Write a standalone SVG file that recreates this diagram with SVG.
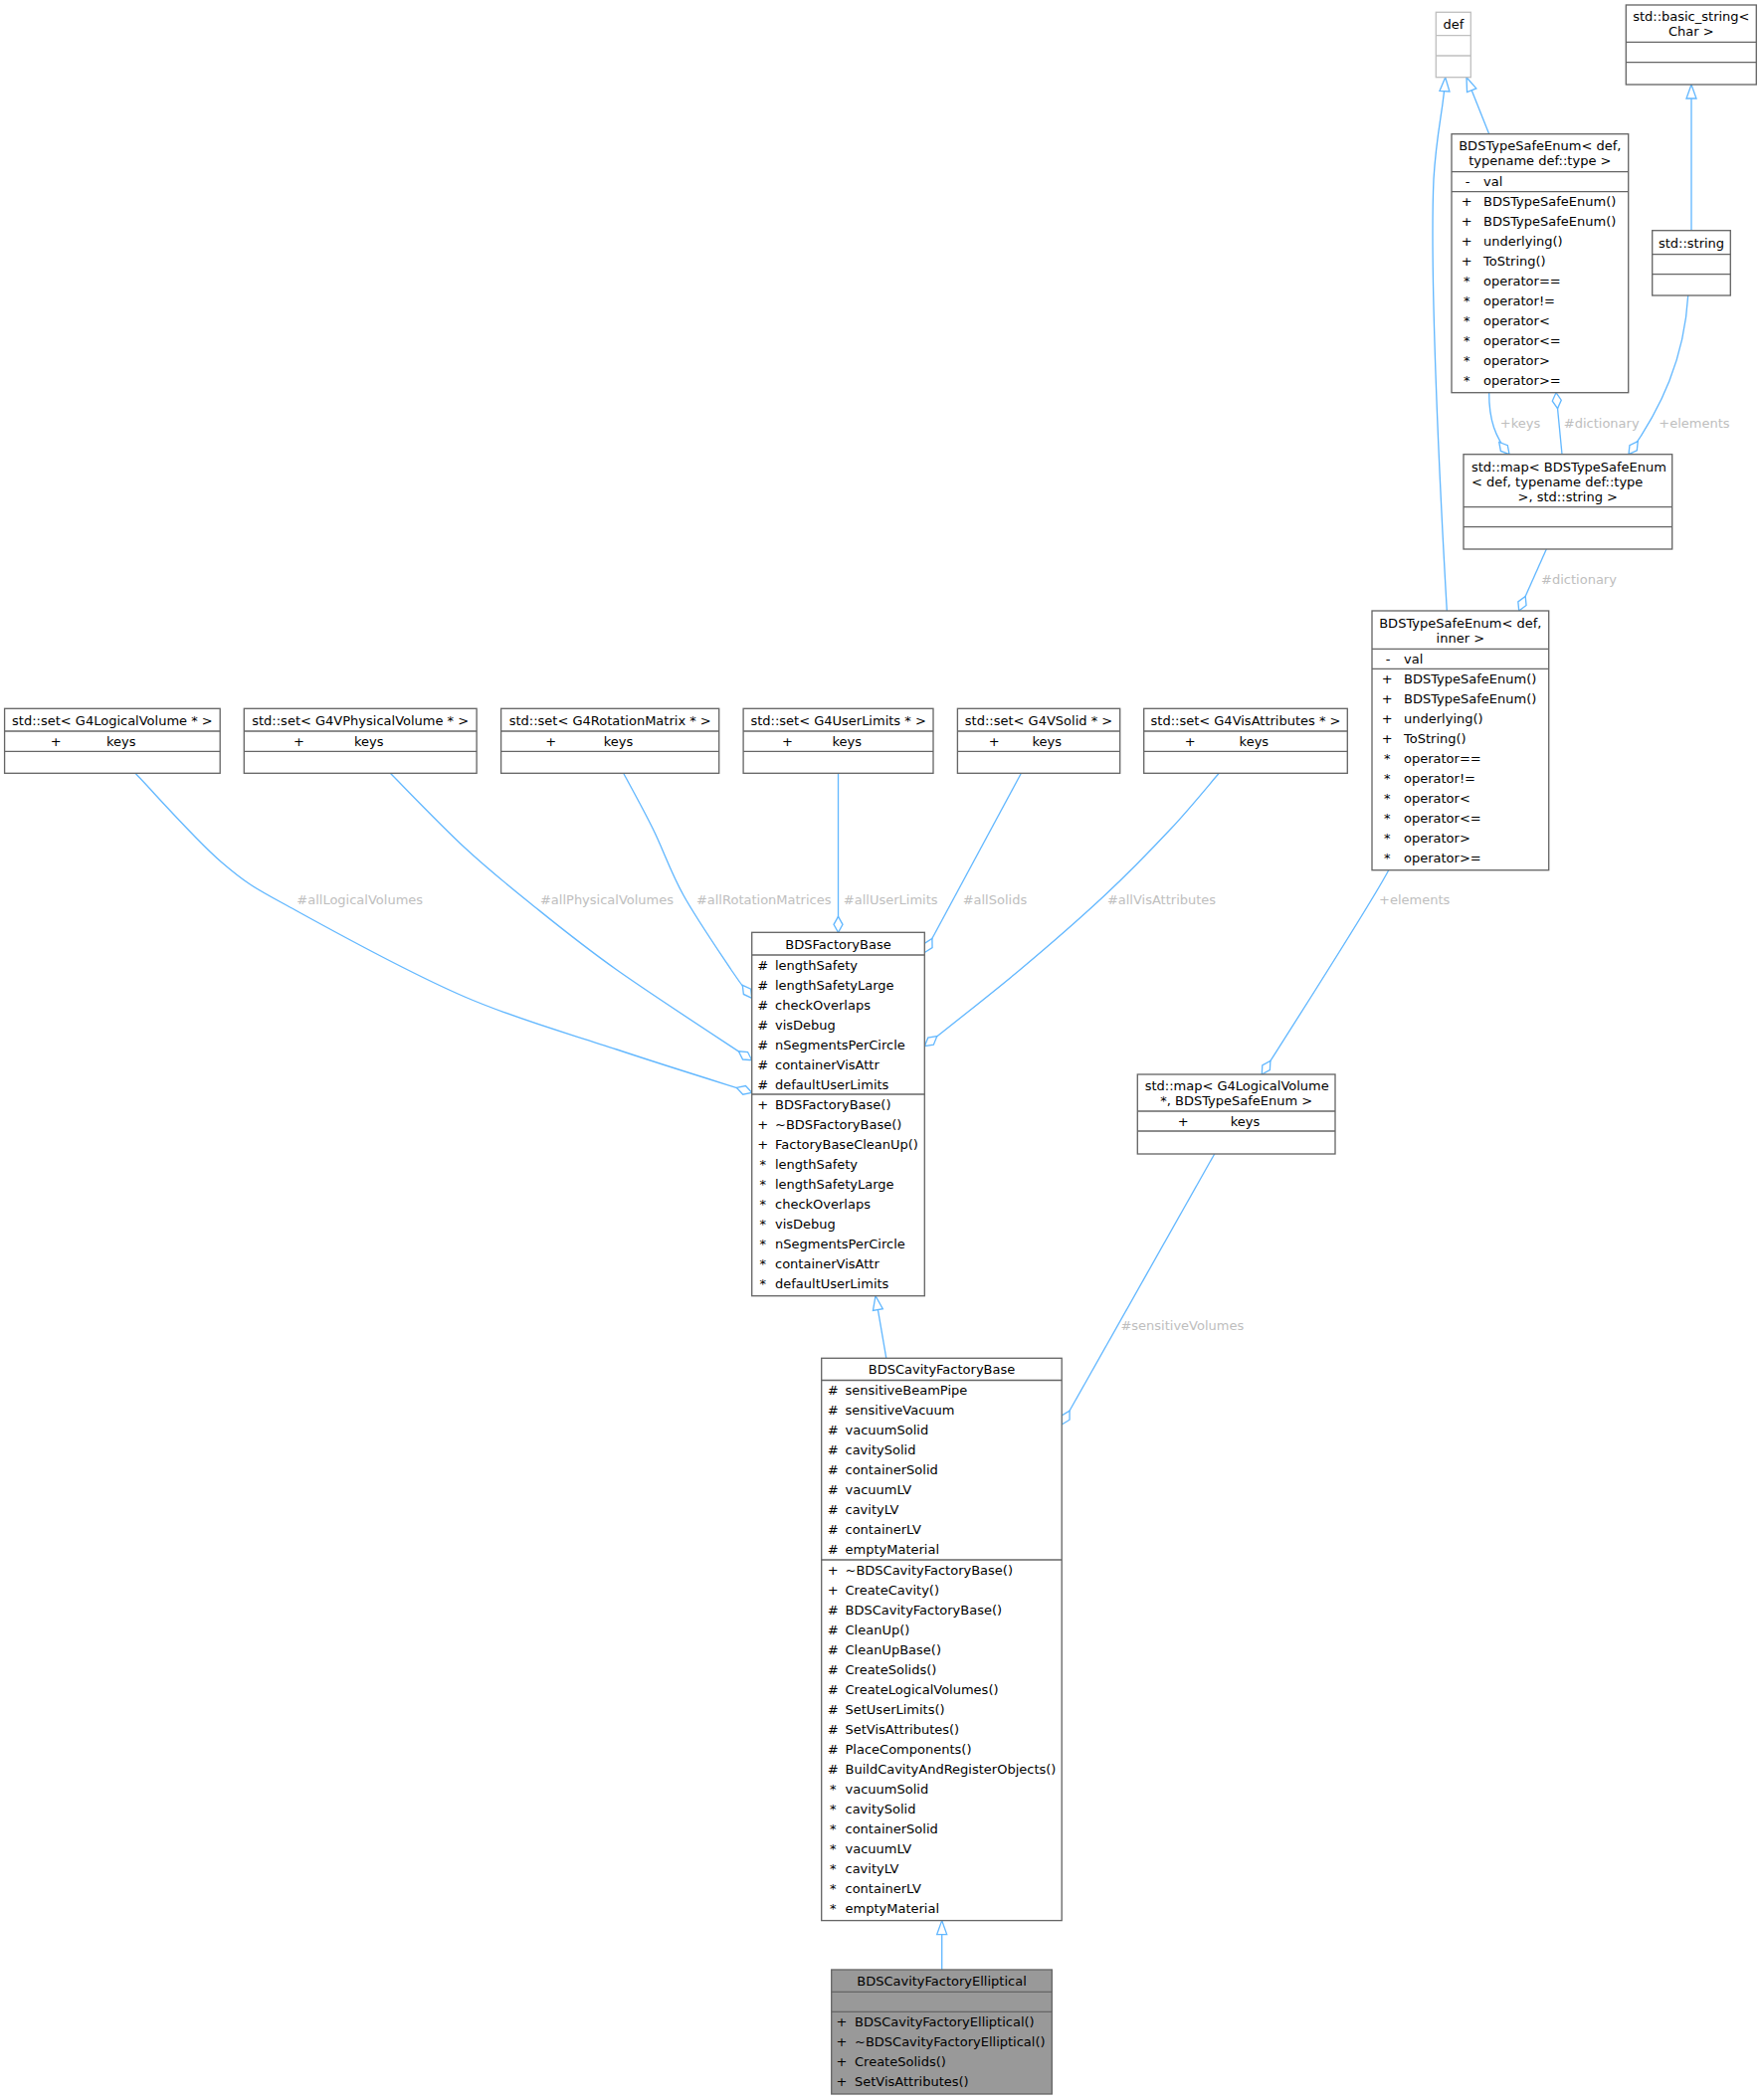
<svg xmlns="http://www.w3.org/2000/svg" width="1771" height="2111" viewBox="0 0 1771 2111">
<style>
text{font-family:"DejaVu Sans","Liberation Sans",sans-serif;font-size:13px;fill:#000}
.b{fill:#fff;stroke:#666;stroke-width:1.33}
.g{fill:#fff;stroke:#bfbfbf;stroke-width:1.33}
.d{stroke:#666;stroke-width:1.33}
.dg{stroke:#bfbfbf;stroke-width:1.33}
.m{text-anchor:middle}
.e{fill:none;stroke:#63b8ff;stroke-width:1.33}
.agg{marker-end:url(#dia)}
.inh{marker-end:url(#tri)}
.l{fill:#bebebe;text-anchor:middle}
</style>
<defs>
<marker id="dia" viewBox="-17 -6 18 12" refX="0" refY="0" markerWidth="18" markerHeight="12" orient="auto" markerUnits="userSpaceOnUse"><path d="M0,0 L-8,-4.5 L-16,0 L-8,4.5 Z" fill="#fff" stroke="#63b8ff" stroke-width="1.33"/></marker>
<marker id="tri" viewBox="-16 -7 17 14" refX="0" refY="0" markerWidth="17" markerHeight="14" orient="auto" markerUnits="userSpaceOnUse"><path d="M0,0 L-14,-5 L-14,5 Z" fill="#fff" stroke="#63b8ff" stroke-width="1.33"/></marker>
</defs>
<rect width="1771" height="2111" fill="#fff"/>

<g id="edges">
<path class="e agg" d="M136,777.3 C150.5,792 196.2,844 223,867 C249.8,890 256.3,892.5 297,915 C337.7,937.5 413.2,978.7 467,1002 C520.8,1025.3 571.9,1038.9 620,1055 C668.1,1071.1 733.1,1091.1 755.7,1098.3"/>
<path class="e agg" d="M392.3,777.3 C404.8,789.8 443.5,830.2 467,852 C490.5,873.8 507.5,887.5 533,908 C558.5,928.5 582.9,948.7 620,975 C657.1,1001.3 733.1,1050.6 755.7,1065.7"/>
<path class="e agg" d="M626.7,777.3 C631.6,786.6 646.3,812.9 656.3,833.3 C666.4,853.7 673.9,876.4 687,900 C700.1,923.6 723.6,957.8 735,975 C746.5,992.2 752.3,998.6 755.7,1003.3"/>
<path class="e agg" d="M842.5,777.3 L842.5,937.3"/>
<path class="e agg" d="M1026.4,777.3 L929.3,957.5"/>
<path class="e agg" d="M1225.2,777.3 C1217.1,786.6 1195.8,812.9 1176.7,833.3 C1157.6,853.7 1135.7,876.4 1110.4,900 C1085.1,923.6 1055.2,949.7 1025,975 C994.8,1000.3 945.3,1038.9 929.3,1051.7"/>
<path class="e agg" d="M1395.7,874.7 C1380,905 1300,1030 1268.3,1080"/>
<path class="e agg" d="M1220.7,1160 L1067.2,1432"/>
<path class="e inh" d="M890.8,1365.3 L880,1302.7"/>
<path class="e inh" d="M946.7,1980 L946.7,1930.6"/>
<path class="e inh" d="M1454.3,614 C1446,470 1437,270 1441,180 C1444,130 1451,110 1452.7,77.7"/>
<path class="e inh" d="M1496.7,134.7 L1474,77.7"/>
<path class="e inh" d="M1700,231.7 L1700,85"/>
<path class="e agg" d="M1496.7,394.7 C1496.5,422 1503,440 1517,456.7"/>
<path class="e agg" d="M1570,456.7 L1564,394.7"/>
<path class="e agg" d="M1696.7,297 C1693,360 1670,410 1637,456.7"/>
<path class="e agg" d="M1554.3,552 L1526.7,614"/>
<text class="l" x="361.7" y="908.8">#allLogicalVolumes</text>
<text class="l" x="610" y="908.8">#allPhysicalVolumes</text>
<text class="l" x="767.7" y="908.8">#allRotationMatrices</text>
<text class="l" x="895.2" y="908.8">#allUserLimits</text>
<text class="l" x="999.9" y="908.8">#allSolids</text>
<text class="l" x="1167.5" y="908.8">#allVisAttributes</text>
<text class="l" x="1421.7" y="908.8">+elements</text>
<text class="l" x="1188.3" y="1337.2">#sensitiveVolumes</text>
<text class="l" x="1528" y="429.5">+keys</text>
<text class="l" x="1609.7" y="429.5">#dictionary</text>
<text class="l" x="1703" y="429.5">+elements</text>
<text class="l" x="1587" y="587.2">#dictionary</text>
</g>

<g id="set_G4LogicalVolume">
<rect class="b" x="4.6" y="712.3" width="216.6" height="65"/>
<line class="d" x1="4.6" y1="735" x2="221.2" y2="735"/><line class="d" x1="4.6" y1="755.3" x2="221.2" y2="755.3"/>
<text class="m" x="112.9" y="728.5">std::set&lt; G4LogicalVolume * &gt;</text>
<text class="m" x="56.3" y="749.5">+</text><text x="107" y="749.5">keys</text>
</g>
<g id="set_G4VPhysicalVolume">
<rect class="b" x="245.3" y="712.3" width="233.8" height="65"/>
<line class="d" x1="245.3" y1="735" x2="479.1" y2="735"/><line class="d" x1="245.3" y1="755.3" x2="479.1" y2="755.3"/>
<text class="m" x="362.2" y="728.5">std::set&lt; G4VPhysicalVolume * &gt;</text>
<text class="m" x="300.4" y="749.5">+</text><text x="355.9" y="749.5">keys</text>
</g>
<g id="set_G4RotationMatrix">
<rect class="b" x="503.6" y="712.3" width="219.1" height="65"/>
<line class="d" x1="503.6" y1="735" x2="722.7" y2="735"/><line class="d" x1="503.6" y1="755.3" x2="722.7" y2="755.3"/>
<text class="m" x="613.2" y="728.5">std::set&lt; G4RotationMatrix * &gt;</text>
<text class="m" x="553.8" y="749.5">+</text><text x="606.8" y="749.5">keys</text>
</g>
<g id="set_G4UserLimits">
<rect class="b" x="747.1" y="712.3" width="190.9" height="65"/>
<line class="d" x1="747.1" y1="735" x2="938" y2="735"/><line class="d" x1="747.1" y1="755.3" x2="938" y2="755.3"/>
<text class="m" x="842.6" y="728.5">std::set&lt; G4UserLimits * &gt;</text>
<text class="m" x="791.5" y="749.5">+</text><text x="836.4" y="749.5">keys</text>
</g>
<g id="set_G4VSolid">
<rect class="b" x="962.4" y="712.3" width="163.3" height="65"/>
<line class="d" x1="962.4" y1="735" x2="1125.7" y2="735"/><line class="d" x1="962.4" y1="755.3" x2="1125.7" y2="755.3"/>
<text class="m" x="1044" y="728.5">std::set&lt; G4VSolid * &gt;</text>
<text class="m" x="999.2" y="749.5">+</text><text x="1037.4" y="749.5">keys</text>
</g>
<g id="set_G4VisAttributes">
<rect class="b" x="1149.7" y="712.3" width="204.6" height="65"/>
<line class="d" x1="1149.7" y1="735" x2="1354.3" y2="735"/><line class="d" x1="1149.7" y1="755.3" x2="1354.3" y2="755.3"/>
<text class="m" x="1252" y="728.5">std::set&lt; G4VisAttributes * &gt;</text>
<text class="m" x="1196.1" y="749.5">+</text><text x="1245.6" y="749.5">keys</text>
</g>

<g id="def">
<rect class="g" x="1443.3" y="12.3" width="35" height="65.4"/>
<line class="dg" x1="1443.3" y1="35.7" x2="1478.3" y2="35.7"/><line class="dg" x1="1443.3" y1="56" x2="1478.3" y2="56"/>
<text class="m" x="1460.8" y="28.5">def</text>
</g>
<g id="basic_string">
<rect class="b" x="1634.3" y="5" width="131" height="80"/>
<line class="d" x1="1634.3" y1="42.3" x2="1765.3" y2="42.3"/><line class="d" x1="1634.3" y1="62.7" x2="1765.3" y2="62.7"/>
<text class="m" x="1699.8" y="21.2">std::basic_string&lt;</text>
<text class="m" x="1699.8" y="36.2">Char &gt;</text>
</g>
<g id="std_string">
<rect class="b" x="1660.7" y="231.7" width="78.6" height="65.3"/>
<line class="d" x1="1660.7" y1="255.7" x2="1739.3" y2="255.7"/><line class="d" x1="1660.7" y1="275.7" x2="1739.3" y2="275.7"/>
<text class="m" x="1700" y="248.8">std::string</text>
</g>
<g id="BDSTypeSafeEnum_typename">
<rect class="b" x="1459" y="134.7" width="177.7" height="260"/>
<line class="d" x1="1459" y1="172.7" x2="1636.7" y2="172.7"/><line class="d" x1="1459" y1="192.7" x2="1636.7" y2="192.7"/>
<text class="m" x="1547.8" y="151.2">BDSTypeSafeEnum&lt; def,</text>
<text class="m" x="1547.8" y="166.2">typename def::type &gt;</text>
<text class="m" x="1475" y="187">-</text><text x="1491" y="187">val</text>
<text class="m" x="1474.3" y="207">+</text><text x="1491" y="207">BDSTypeSafeEnum()</text>
<text class="m" x="1474.3" y="227">+</text><text x="1491" y="227">BDSTypeSafeEnum()</text>
<text class="m" x="1474.3" y="247">+</text><text x="1491" y="247">underlying()</text>
<text class="m" x="1474.3" y="267">+</text><text x="1491" y="267">ToString()</text>
<text class="m" x="1474.3" y="287">*</text><text x="1491" y="287">operator==</text>
<text class="m" x="1474.3" y="307">*</text><text x="1491" y="307">operator!=</text>
<text class="m" x="1474.3" y="327">*</text><text x="1491" y="327">operator&lt;</text>
<text class="m" x="1474.3" y="347">*</text><text x="1491" y="347">operator&lt;=</text>
<text class="m" x="1474.3" y="367">*</text><text x="1491" y="367">operator&gt;</text>
<text class="m" x="1474.3" y="387">*</text><text x="1491" y="387">operator&gt;=</text>
</g>
<g id="map_enum_string">
<rect class="b" x="1471" y="456.7" width="209.7" height="95.3"/>
<line class="d" x1="1471" y1="509.7" x2="1680.7" y2="509.7"/><line class="d" x1="1471" y1="529.7" x2="1680.7" y2="529.7"/>
<text x="1479" y="473.8">std::map&lt; BDSTypeSafeEnum</text>
<text x="1479" y="488.8">&lt; def, typename def::type</text>
<text class="m" x="1575.8" y="503.5">&gt;, std::string &gt;</text>
</g>
<g id="BDSTypeSafeEnum_inner">
<rect class="b" x="1379" y="614" width="177.7" height="260.7"/>
<line class="d" x1="1379" y1="652.3" x2="1556.7" y2="652.3"/><line class="d" x1="1379" y1="672.3" x2="1556.7" y2="672.3"/>
<text class="m" x="1467.8" y="631.2">BDSTypeSafeEnum&lt; def,</text>
<text class="m" x="1467.8" y="646.2">inner &gt;</text>
<text class="m" x="1395" y="666.6">-</text><text x="1411" y="666.6">val</text>
<text class="m" x="1394.3" y="686.6">+</text><text x="1411" y="686.6">BDSTypeSafeEnum()</text>
<text class="m" x="1394.3" y="706.6">+</text><text x="1411" y="706.6">BDSTypeSafeEnum()</text>
<text class="m" x="1394.3" y="726.6">+</text><text x="1411" y="726.6">underlying()</text>
<text class="m" x="1394.3" y="746.6">+</text><text x="1411" y="746.6">ToString()</text>
<text class="m" x="1394.3" y="766.6">*</text><text x="1411" y="766.6">operator==</text>
<text class="m" x="1394.3" y="786.6">*</text><text x="1411" y="786.6">operator!=</text>
<text class="m" x="1394.3" y="806.6">*</text><text x="1411" y="806.6">operator&lt;</text>
<text class="m" x="1394.3" y="826.6">*</text><text x="1411" y="826.6">operator&lt;=</text>
<text class="m" x="1394.3" y="846.6">*</text><text x="1411" y="846.6">operator&gt;</text>
<text class="m" x="1394.3" y="866.6">*</text><text x="1411" y="866.6">operator&gt;=</text>
</g>
<g id="map_LV_enum">
<rect class="b" x="1143.3" y="1080" width="198.7" height="80"/>
<line class="d" x1="1143.3" y1="1117" x2="1342" y2="1117"/><line class="d" x1="1143.3" y1="1137" x2="1342" y2="1137"/>
<text x="1150.7" y="1095.5">std::map&lt; G4LogicalVolume</text>
<text class="m" x="1242.7" y="1110.5">*, BDSTypeSafeEnum &gt;</text>
<text class="m" x="1189.3" y="1131.5">+</text><text x="1236.7" y="1131.5">keys</text>
</g>
<g id="BDSFactoryBase">
<rect class="b" x="755.7" y="937.3" width="173.6" height="365.4"/>
<line class="d" x1="755.7" y1="960" x2="929.3" y2="960"/><line class="d" x1="755.7" y1="1100" x2="929.3" y2="1100"/>
<text class="m" x="842.5" y="953.5">BDSFactoryBase</text>
<text class="m" x="766.7" y="974.5">#</text><text x="779" y="974.5">lengthSafety</text>
<text class="m" x="766.7" y="994.5">#</text><text x="779" y="994.5">lengthSafetyLarge</text>
<text class="m" x="766.7" y="1014.5">#</text><text x="779" y="1014.5">checkOverlaps</text>
<text class="m" x="766.7" y="1034.5">#</text><text x="779" y="1034.5">visDebug</text>
<text class="m" x="766.7" y="1054.5">#</text><text x="779" y="1054.5">nSegmentsPerCircle</text>
<text class="m" x="766.7" y="1074.5">#</text><text x="779" y="1074.5">containerVisAttr</text>
<text class="m" x="766.7" y="1094.5">#</text><text x="779" y="1094.5">defaultUserLimits</text>
<text class="m" x="766.7" y="1114.5">+</text><text x="779" y="1114.5">BDSFactoryBase()</text>
<text class="m" x="766.7" y="1134.5">+</text><text x="779" y="1134.5">~BDSFactoryBase()</text>
<text class="m" x="766.7" y="1154.5">+</text><text x="779" y="1154.5">FactoryBaseCleanUp()</text>
<text class="m" x="766.7" y="1174.5">*</text><text x="779" y="1174.5">lengthSafety</text>
<text class="m" x="766.7" y="1194.5">*</text><text x="779" y="1194.5">lengthSafetyLarge</text>
<text class="m" x="766.7" y="1214.5">*</text><text x="779" y="1214.5">checkOverlaps</text>
<text class="m" x="766.7" y="1234.5">*</text><text x="779" y="1234.5">visDebug</text>
<text class="m" x="766.7" y="1254.5">*</text><text x="779" y="1254.5">nSegmentsPerCircle</text>
<text class="m" x="766.7" y="1274.5">*</text><text x="779" y="1274.5">containerVisAttr</text>
<text class="m" x="766.7" y="1294.5">*</text><text x="779" y="1294.5">defaultUserLimits</text>
</g>
<g id="BDSCavityFactoryBase">
<rect class="b" x="825.7" y="1365.3" width="241.5" height="565.3"/>
<line class="d" x1="825.7" y1="1387.5" x2="1067.2" y2="1387.5"/><line class="d" x1="825.7" y1="1568" x2="1067.2" y2="1568"/>
<text class="m" x="946.5" y="1381.3">BDSCavityFactoryBase</text>
<text class="m" x="837.2" y="1402">#</text><text x="849.5" y="1402">sensitiveBeamPipe</text>
<text class="m" x="837.2" y="1422">#</text><text x="849.5" y="1422">sensitiveVacuum</text>
<text class="m" x="837.2" y="1442">#</text><text x="849.5" y="1442">vacuumSolid</text>
<text class="m" x="837.2" y="1462">#</text><text x="849.5" y="1462">cavitySolid</text>
<text class="m" x="837.2" y="1482">#</text><text x="849.5" y="1482">containerSolid</text>
<text class="m" x="837.2" y="1502">#</text><text x="849.5" y="1502">vacuumLV</text>
<text class="m" x="837.2" y="1522">#</text><text x="849.5" y="1522">cavityLV</text>
<text class="m" x="837.2" y="1542">#</text><text x="849.5" y="1542">containerLV</text>
<text class="m" x="837.2" y="1562">#</text><text x="849.5" y="1562">emptyMaterial</text>
<text class="m" x="837.2" y="1582.5">+</text><text x="849.5" y="1582.5">~BDSCavityFactoryBase()</text>
<text class="m" x="837.2" y="1602.5">+</text><text x="849.5" y="1602.5">CreateCavity()</text>
<text class="m" x="837.2" y="1622.5">#</text><text x="849.5" y="1622.5">BDSCavityFactoryBase()</text>
<text class="m" x="837.2" y="1642.5">#</text><text x="849.5" y="1642.5">CleanUp()</text>
<text class="m" x="837.2" y="1662.5">#</text><text x="849.5" y="1662.5">CleanUpBase()</text>
<text class="m" x="837.2" y="1682.5">#</text><text x="849.5" y="1682.5">CreateSolids()</text>
<text class="m" x="837.2" y="1702.5">#</text><text x="849.5" y="1702.5">CreateLogicalVolumes()</text>
<text class="m" x="837.2" y="1722.5">#</text><text x="849.5" y="1722.5">SetUserLimits()</text>
<text class="m" x="837.2" y="1742.5">#</text><text x="849.5" y="1742.5">SetVisAttributes()</text>
<text class="m" x="837.2" y="1762.5">#</text><text x="849.5" y="1762.5">PlaceComponents()</text>
<text class="m" x="837.2" y="1782.5">#</text><text x="849.5" y="1782.5">BuildCavityAndRegisterObjects()</text>
<text class="m" x="837.2" y="1802.5">*</text><text x="849.5" y="1802.5">vacuumSolid</text>
<text class="m" x="837.2" y="1822.5">*</text><text x="849.5" y="1822.5">cavitySolid</text>
<text class="m" x="837.2" y="1842.5">*</text><text x="849.5" y="1842.5">containerSolid</text>
<text class="m" x="837.2" y="1862.5">*</text><text x="849.5" y="1862.5">vacuumLV</text>
<text class="m" x="837.2" y="1882.5">*</text><text x="849.5" y="1882.5">cavityLV</text>
<text class="m" x="837.2" y="1902.5">*</text><text x="849.5" y="1902.5">containerLV</text>
<text class="m" x="837.2" y="1922.5">*</text><text x="849.5" y="1922.5">emptyMaterial</text>
</g>
<g id="BDSCavityFactoryElliptical">
<rect x="835.7" y="1980" width="221.6" height="125" fill="#999" stroke="#666" stroke-width="1.33"/>
<line class="d" x1="835.7" y1="2002.3" x2="1057.3" y2="2002.3"/><line class="d" x1="835.7" y1="2022.3" x2="1057.3" y2="2022.3"/>
<text class="m" x="946.5" y="1996.2">BDSCavityFactoryElliptical</text>
<text class="m" x="846" y="2036.8">+</text><text x="859" y="2036.8">BDSCavityFactoryElliptical()</text>
<text class="m" x="846" y="2056.8">+</text><text x="859" y="2056.8">~BDSCavityFactoryElliptical()</text>
<text class="m" x="846" y="2076.8">+</text><text x="859" y="2076.8">CreateSolids()</text>
<text class="m" x="846" y="2096.8">+</text><text x="859" y="2096.8">SetVisAttributes()</text>
</g>
</svg>
